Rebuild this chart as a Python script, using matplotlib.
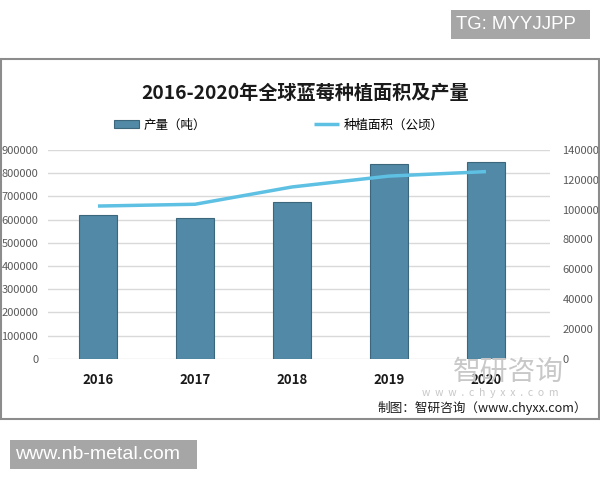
import matplotlib
matplotlib.use("Agg")
import matplotlib.pyplot as plt
from matplotlib.patches import Rectangle

plt.rcParams['font.family'] = ['Noto Sans CJK SC', 'DejaVu Sans']

# 数据
years = ["2016", "2017", "2018", "2019", "2020"]
production = [621000, 605000, 674000, 840000, 848000]   # 产量（吨）
area = [102400, 103600, 115200, 122500, 125500]          # 种植面积（公顷）
left_ticks = list(range(0, 900001, 100000))
right_ticks = list(range(0, 140001, 20000))

bar_color = "#5189a6"
bar_edge = "#3c667c"
line_color = "#5ec0e3"
grid_color = "#d9d9d9"
tick_color = "#595959"

W, H = 600, 480

def fx(px):
    return px / W

def fy(py):
    return 1 - py / H

fig = plt.figure(figsize=(6, 4.8), dpi=100)
fig.patch.set_facecolor("white")

# 外框
fig.patches.append(Rectangle((fx(1), fy(419)), 598 / W, 360 / H,
                             transform=fig.transFigure, fill=False,
                             edgecolor="#8c8c8c", lw=1.5))

ax = fig.add_axes([fx(48), fy(358.7), 502 / W, 208.7 / H])
x = range(len(years))
bars = ax.bar(x, production, width=0.4, color=bar_color, edgecolor=bar_edge,
              linewidth=0.8, zorder=3, label="产量（吨）")
ax.set_ylim(0, 900000)
ax.set_yticks(left_ticks)
ax.set_yticklabels([str(v) for v in left_ticks])
ax.set_xlim(-0.515, 4.66)
ax.set_xticks(list(x))
ax.set_xticklabels(years, fontweight="bold", fontsize=9.5, color="#1a1a1a")
ax.grid(axis="y", color=grid_color, lw=1, zorder=0)
for s in ax.spines.values():
    s.set_visible(False)
ax.tick_params(axis="y", length=0, pad=7, labelsize=8, labelcolor=tick_color)
ax.tick_params(axis="x", length=0, pad=10)

ax2 = ax.twinx()
line, = ax2.plot(list(x), area, color=line_color, lw=2.5, zorder=4,
                 solid_capstyle="butt", label="种植面积（公顷）")
ax2.set_ylim(0, 140000)
ax2.set_yticks(right_ticks)
ax2.set_yticklabels([str(v) for v in right_ticks])
for s in ax2.spines.values():
    s.set_visible(False)
ax2.tick_params(axis="y", length=0, pad=9, labelsize=8, labelcolor=tick_color)

# 标题与图例
fig.text(fx(305), fy(93), "2016-2020年全球蓝莓种植面积及产量",
         ha="center", va="center", fontsize=13.8, fontweight="bold", color="#1a1a1a")
fig.legend(handles=[bars, line], labels=["产量（吨）", "种植面积（公顷）"],
           ncol=2, loc="center", bbox_to_anchor=(fx(279), fy(125)),
           frameon=False, fontsize=9, handlelength=2.0, handleheight=0.55,
           handletextpad=0.4, columnspacing=8.6)

# 水印
fig.text(fx(508), fy(372), "智研咨询", ha="center", va="center",
         fontsize=20, color="#c8c8c8", zorder=1)
fig.text(fx(490), fy(393), "w  w  w  .  c  h  y  x  x  .  c  o  m", ha="center",
         va="center", fontsize=7.5, color="#c8c8c8", zorder=1)

# 来源
fig.text(fx(587), fy(408), "制图：智研咨询（www.chyxx.com）",
         ha="right", va="center", fontsize=9.1, color="#1a1a1a")

# 叠加的标签框
fig.patches.append(Rectangle((fx(451), fy(39)), 139 / W, 29 / H,
                             transform=fig.transFigure, facecolor="#a6a6a6",
                             edgecolor="none"))
fig.text(fx(456), fy(24.5), "TG: MYYJJPP", ha="left", va="center",
         fontsize=13.4, color="white", family="Liberation Sans")
fig.patches.append(Rectangle((fx(10), fy(469)), 187 / W, 29 / H,
                             transform=fig.transFigure, facecolor="#a6a6a6",
                             edgecolor="none"))
fig.text(fx(15), fy(454.5), "www.nb-metal.com", ha="left", va="center",
         fontsize=14, color="white", family="Liberation Sans")

fig.savefig("out.png", dpi=100)
